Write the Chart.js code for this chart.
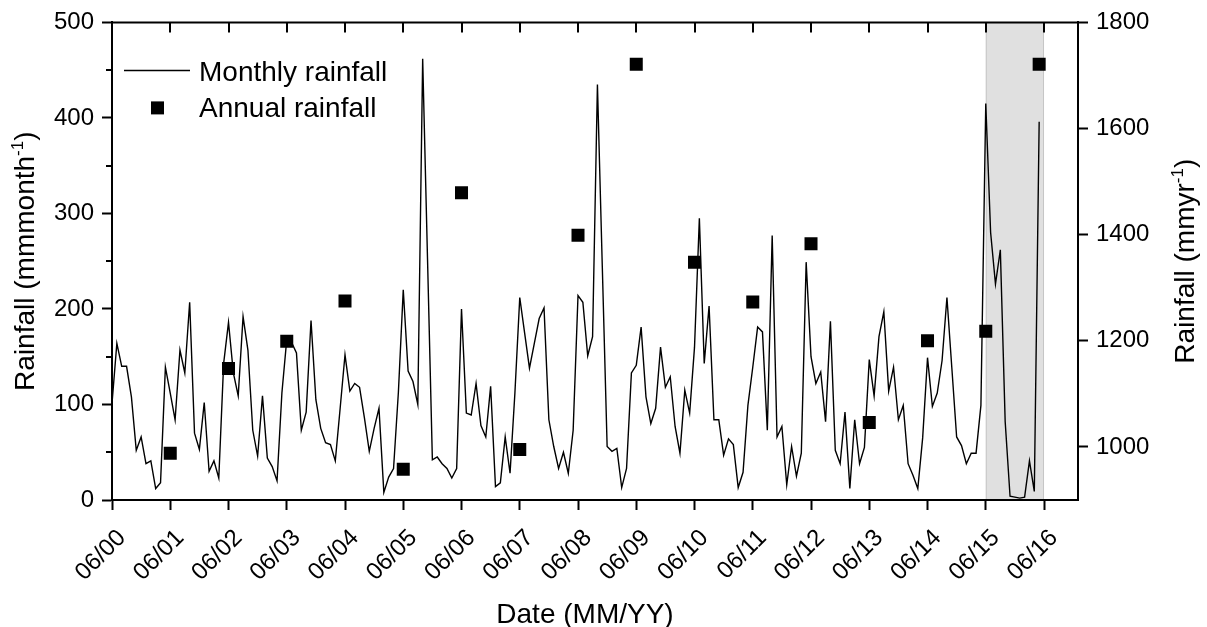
<!DOCTYPE html>
<html>
<head>
<meta charset="utf-8">
<script src="https://cdn.jsdelivr.net/npm/chart.js@4.4.1/dist/chart.umd.min.js"></script>
<style>
html,body{margin:0;padding:0;background:#fff;}
canvas{display:block;}
</style>
</head>
<body>
<canvas id="c" width="1207" height="627"></canvas>
<script>
// ---- Data (months counted from 06/2000) ----
const monthlyRainfall = [
  101,164,140,140,108,52,66,38,41,12,18,139,
  112,84,157,133,207,70,53,102,30,41,23,143,
  186,133,109,192,157,73,46,109,44,35,20,112,
  168,165,154,73,92,188,105,75,60,58,41,96,
  152,114,122,118,86,51,75,96,8,24,33,113,
  220,135,124,100,462,252,42,45,38,33,23,33,
  200,91,89,122,78,66,119,14,18,66,28,112,
  212,175,138,164,190,201,84,56,33,50,28,73,
  214,207,151,171,435,245,56,51,54,13,33,133,
  141,181,108,80,96,160,118,129,77,49,115,91,
  160,295,143,203,84,84,47,64,58,13,29,99,
  139,181,176,73,277,66,77,16,56,25,49,249,
  150,122,134,82,187,52,38,92,12,84,38,55,
  147,109,171,197,114,139,84,99,38,26,12,65,
  149,98,112,146,212,139,66,57,38,49,49,99,
  415,280,226,262,82,4,3,2,3,41,9,396
];
const annualMonths   = [12,24,36,48,60,72,84,96,108,120,132,144,156,168,180,191];
const annualRainfall = [988,1148,1199,1275,958,1479,995,1399,1721,1348,1273,1383,1046,1200,1218,1721];
const yearTickMonths = [0,12,24,36,48,60,72,84,96,108,120,132,144,156,168,180,192];
const yearTickLabels = ['06/00','06/01','06/02','06/03','06/04','06/05','06/06','06/07','06/08',
                        '06/09','06/10','06/11','06/12','06/13','06/14','06/15','06/16'];
const leftTicks      = [0,100,200,300,400,500];
const leftMinorTicks = [50,150,250,350,450];
const rightTicks     = [1000,1200,1400,1600,1800];
const shadedMonths   = [180,192];

const FONT = "'Liberation Sans', Arial, Helvetica, sans-serif";
Chart.defaults.font.family = FONT;
Chart.defaults.color = '#000';

function drawRich(ctx, parts, size, supSize, supRaise) {
  let total = 0;
  const widths = parts.map(p => {
    ctx.font = (p.sup ? supSize : size) + 'px ' + FONT;
    const w = ctx.measureText(p.t).width;
    total += w;
    return w;
  });
  let x = -total / 2;
  parts.forEach((p, i) => {
    ctx.font = (p.sup ? supSize : size) + 'px ' + FONT;
    ctx.fillText(p.t, x, p.sup ? -supRaise : 0);
    x += widths[i];
  });
}

const framePlugin = {
  id: 'frame',
  beforeDatasetsDraw(chart) {
    const {ctx, chartArea: a, scales: {x}} = chart;
    const x0 = x.getPixelForValue(shadedMonths[0]);
    const x1 = x.getPixelForValue(shadedMonths[1]);
    ctx.save();
    ctx.fillStyle = '#e0e0e0';
    ctx.fillRect(x0, a.top, x1 - x0, a.bottom - a.top - 1);
    ctx.strokeStyle = '#c6c6c6';
    ctx.lineWidth = 1;
    ctx.beginPath();
    ctx.moveTo(x0 + 0.5, a.top); ctx.lineTo(x0 + 0.5, a.bottom - 1);
    ctx.moveTo(x1 - 0.5, a.top); ctx.lineTo(x1 - 0.5, a.bottom - 1);
    ctx.stroke();
    ctx.restore();
  },
  afterDraw(chart) {
    const {ctx, chartArea: a, scales: {x, y}} = chart;
    ctx.save();
    ctx.strokeStyle = '#000';
    ctx.fillStyle = '#000';
    ctx.lineWidth = 2;
    // top frame line
    ctx.beginPath();
    ctx.moveTo(a.left - 1, a.top); ctx.lineTo(a.right + 1, a.top);
    ctx.stroke();
    // top inward ticks
    ctx.beginPath();
    yearTickMonths.forEach(m => {
      const px = Math.round(x.getPixelForValue(m));
      ctx.moveTo(px, a.top); ctx.lineTo(px, a.top + 10);
    });
    ctx.stroke();
    // left minor ticks
    ctx.beginPath();
    leftMinorTicks.forEach(v => {
      const py = Math.round(y.getPixelForValue(v));
      ctx.moveTo(a.left - 6, py); ctx.lineTo(a.left, py);
    });
    ctx.stroke();

    // legend
    const lx = a.left + 12;
    ctx.lineWidth = 1.5;
    ctx.beginPath();
    ctx.moveTo(lx, a.top + 48); ctx.lineTo(lx + 66, a.top + 48);
    ctx.stroke();
    ctx.fillRect(lx + 27, a.top + 79, 13, 13);
    ctx.font = '28px ' + FONT;
    ctx.textAlign = 'left';
    ctx.textBaseline = 'alphabetic';
    ctx.fillText('Monthly rainfall', a.left + 87, a.top + 59);
    ctx.fillText('Annual rainfall', a.left + 87, a.top + 95);

    // x title
    ctx.save();
    ctx.translate(585, 623);
    drawRich(ctx, [{t: 'Date (MM/YY)'}], 28, 17, 11);
    ctx.restore();

    // left title
    ctx.save();
    ctx.translate(34, (a.top + a.bottom) / 2);
    ctx.rotate(-Math.PI / 2);
    drawRich(ctx, [{t: 'Rainfall (mmmonth'}, {t: '-1', sup: true}, {t: ')'}], 28, 17, 11);
    ctx.restore();

    // right title
    ctx.save();
    ctx.translate(1194, (a.top + a.bottom) / 2);
    ctx.rotate(-Math.PI / 2);
    drawRich(ctx, [{t: 'Rainfall (mmyr'}, {t: '-1', sup: true}, {t: ')'}], 28, 17, 11);
    ctx.restore();

    ctx.restore();
  }
};

const axisGrid = {drawOnChartArea: false, drawTicks: true, tickLength: 10, tickWidth: 2, tickColor: '#000'};
const axisBorder = {display: true, width: 2, color: '#000'};

new Chart(document.getElementById('c'), {
  data: {
    datasets: [
      {
        type: 'scatter',
        label: 'Annual rainfall',
        data: annualMonths.map((m, i) => ({x: m, y: annualRainfall[i]})),
        yAxisID: 'y2',
        pointStyle: 'rect',
        pointRadius: 9.2,
        pointHoverRadius: 9.2,
        backgroundColor: '#000',
        borderWidth: 0,
        showLine: false,
        order: 0
      },
      {
        type: 'line',
        label: 'Monthly rainfall',
        data: monthlyRainfall.map((v, i) => ({x: i, y: v})),
        yAxisID: 'y',
        borderColor: '#000',
        borderWidth: 1.4,
        pointRadius: 0,
        tension: 0,
        fill: false,
        order: 1
      }
    ]
  },
  options: {
    responsive: false,
    animation: false,
    devicePixelRatio: 1,
    layout: {padding: {top: 22, left: 0, right: 0, bottom: 0}},
    plugins: {legend: {display: false}, tooltip: {enabled: false}},
    scales: {
      x: {
        type: 'linear', position: 'bottom', min: 0, max: 199,
        afterBuildTicks: s => { s.ticks = yearTickMonths.map(v => ({value: v})); },
        afterFit: s => { s.height = 127; },
        ticks: {
          autoSkip: false, maxRotation: 45, minRotation: 45, padding: 14, labelOffset: 10,
          font: {size: 24}, color: '#000',
          callback: (v, i) => yearTickLabels[i]
        },
        grid: axisGrid, border: axisBorder
      },
      y: {
        type: 'linear', position: 'left', min: 0, max: 500,
        afterBuildTicks: s => { s.ticks = leftTicks.map(v => ({value: v})); },
        afterFit: s => { s.width = 112; },
        ticks: {padding: 8, font: {size: 24}, color: '#000', callback: v => String(v)},
        grid: axisGrid, border: axisBorder
      },
      y2: {
        type: 'linear', position: 'right', min: 900, max: 1800,
        afterBuildTicks: s => { s.ticks = rightTicks.map(v => ({value: v})); },
        afterFit: s => { s.width = 129; },
        ticks: {padding: 8, font: {size: 24}, color: '#000', callback: v => String(v)},
        grid: axisGrid, border: axisBorder
      }
    }
  },
  plugins: [framePlugin]
});
</script>
</body>
</html>
